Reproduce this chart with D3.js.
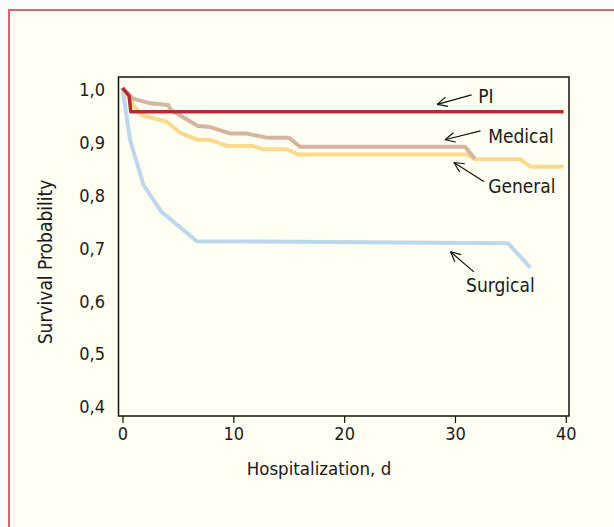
<!DOCTYPE html>
<html>
<head>
<meta charset="utf-8">
<script src="https://cdn.jsdelivr.net/npm/d3@7"></script>
<style>
  body { margin: 0; background: #fafafa; }
  svg text { font-family: "Liberation Sans Narrow", "DejaVu Sans Condensed", sans-serif; fill: #1a1a1a; }
</style>
</head>
<body>
<div id="chart"></div>
<script>
// survival curves: [day, probability]
var surgical = [[0, 1.0], [0.68, 0.902], [1.9, 0.816], [3.5, 0.766], [6.7, 0.71], [34.8, 0.706], [36.8, 0.66]];
var general = [[0, 1.0], [0.97, 0.968], [1.7, 0.949], [4.0, 0.936], [5.3, 0.914], [6.8, 0.902], [7.9, 0.902],
  [9.5, 0.89], [11.8, 0.89], [12.7, 0.884], [14.8, 0.884], [15.9, 0.874], [31.1, 0.874], [31.8, 0.865],
  [35.9, 0.865], [36.8, 0.851], [39.8, 0.851]];
var medical = [[0, 1.0], [0.97, 0.98], [2.5, 0.971], [4.1, 0.968], [4.4, 0.958], [6.8, 0.928], [7.9, 0.926],
  [9.7, 0.914], [11.2, 0.914], [13.0, 0.906], [15.0, 0.906], [16.0, 0.889], [30.9, 0.889], [31.8, 0.866]];
var pi = [[0, 1.0], [0.6, 0.985], [0.75, 0.955], [39.8, 0.955]];

var seriesNames = ["Surgical", "General", "Medical", "PI"];
var seriesColors = ["#bcd6eb", "#fdd98c", "#d5b5a1", "#b52a36"];

var xTicks = [0, 10, 20, 30, 40];
var yTicks = [0.4, 0.5, 0.6, 0.7, 0.8, 0.9, 1.0];

// label text anchor and arrow (tail -> tip), in data units
var labels = [
  {name: "PI", at: [32.1, 0.972], tail: [31.5, 0.987], tip: [28.4, 0.969]},
  {name: "Medical", at: [33.0, 0.896], tail: [32.3, 0.919], tip: [29.1, 0.902]},
  {name: "General", at: [33.0, 0.801], tail: [32.6, 0.823], tip: [29.9, 0.859]},
  {name: "Surgical", at: [31.0, 0.614], tail: [31.7, 0.652], tip: [29.6, 0.69]}
];

var W = 614, H = 527;

var svg = d3.select("#chart").append("svg")
  .attr("width", W).attr("height", H);

// cream panel with pink border
svg.append("rect")
  .attr("x", 9).attr("y", 10).attr("width", W).attr("height", H)
  .attr("fill", "#fffef2").attr("stroke", "#d9646f").attr("stroke-width", 2);

var x = d3.scaleLinear().domain([0, 40]).range([122.5, 565.8]);
var y = d3.scaleLinear().domain([0.4, 1.0]).range([405, 88]);

// plot frame
svg.append("rect")
  .attr("x", 118.5).attr("y", y(1.0) - 11)
  .attr("width", 569 - 118.5).attr("height", y(0.4) + 11 - (y(1.0) - 11))
  .attr("fill", "none").attr("stroke", "#111").attr("stroke-width", 1.5);

var frameBottom = y(0.4) + 11;

// x axis
var xAxis = svg.append("g")
  .attr("transform", "translate(0," + frameBottom + ")")
  .call(d3.axisBottom(x).tickValues(xTicks).tickSize(7).tickPadding(4));
xAxis.select(".domain").remove();
xAxis.selectAll("line").attr("stroke", "#111").attr("stroke-width", 1.2);
xAxis.selectAll("text").style("font-size", "18px").attr("fill", "#1a1a1a");

// y axis (labels only)
var yAxis = svg.append("g")
  .attr("transform", "translate(105,2)")
  .call(d3.axisLeft(y).tickValues(yTicks).tickSize(0).tickPadding(0)
    .tickFormat(function(d) { return d3.format(".1f")(d).replace(".", ","); }));
yAxis.select(".domain").remove();
yAxis.selectAll("text").style("font-size", "18px").attr("fill", "#1a1a1a");

// axis titles
svg.append("text")
  .attr("x", 319).attr("y", 475)
  .attr("text-anchor", "middle")
  .style("font-size", "18.5px")
  .text("Hospitalization, d");

svg.append("text")
  .attr("transform", "translate(52,262) rotate(-90)")
  .attr("text-anchor", "middle")
  .style("font-size", "19px")
  .text("Survival Probability");

// lines
var line = d3.line()
  .x(function(d) { return x(d[0]); })
  .y(function(d) { return y(d[1]); });

[surgical, general, medical, pi].forEach(function(s, i) {
  svg.append("path")
    .datum(s)
    .attr("d", line)
    .attr("fill", "none")
    .attr("stroke", seriesColors[i])
    .attr("stroke-width", i === 3 ? 3.5 : 4)
    .attr("stroke-linejoin", "round");
});

// labels with open arrows
labels.forEach(function(l) {
  svg.append("text")
    .attr("x", x(l.at[0])).attr("y", y(l.at[1]))
    .style("font-size", "19px")
    .text(l.name);

  var x1 = x(l.tail[0]), y1 = y(l.tail[1]), x2 = x(l.tip[0]), y2 = y(l.tip[1]);
  var ang = Math.atan2(y1 - y2, x1 - x2);
  var g = svg.append("g").attr("stroke", "#111").attr("stroke-width", 1.2).attr("fill", "none");
  g.append("line").attr("x1", x1).attr("y1", y1).attr("x2", x2).attr("y2", y2);
  [-0.45, 0.45].forEach(function(a) {
    g.append("line")
      .attr("x1", x2).attr("y1", y2)
      .attr("x2", x2 + 11 * Math.cos(ang + a))
      .attr("y2", y2 + 11 * Math.sin(ang + a));
  });
});
</script>
</body>
</html>
